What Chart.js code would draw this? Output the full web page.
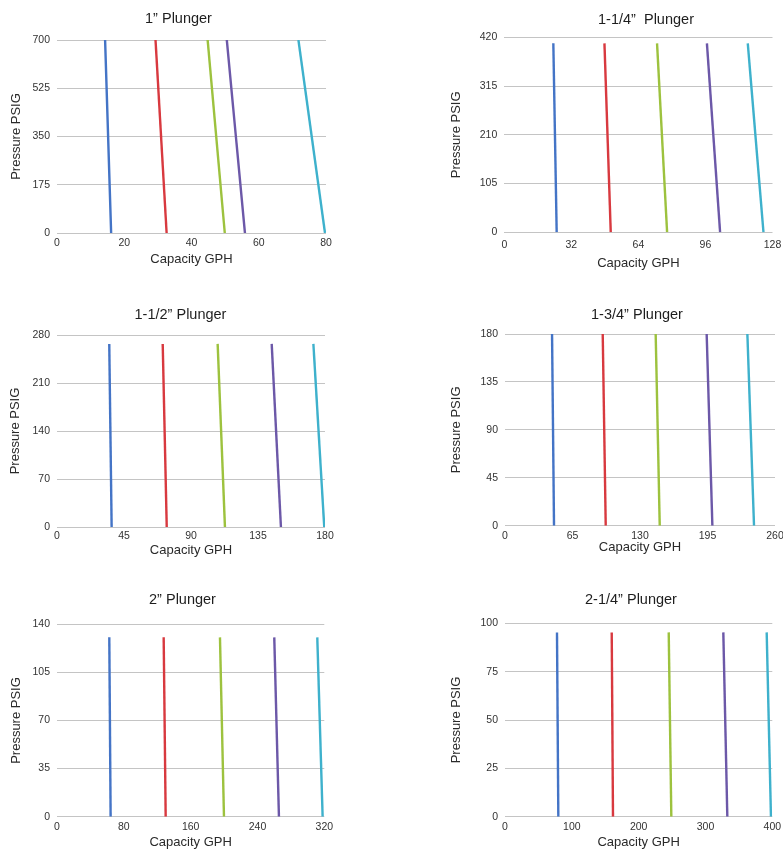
<!DOCTYPE html>
<html><head><meta charset="utf-8">
<script src="https://cdn.jsdelivr.net/npm/chart.js@4.4.1/dist/chart.umd.min.js"></script>
<style>
html,body{margin:0;padding:0;background:#fff;overflow:hidden;width:783px;height:850px}
#wrap{position:relative;width:783px;height:850px;overflow:hidden;background:#fff}
#wrap canvas{position:absolute}
</style></head><body><div id="wrap"></div>
<script>
// ---------- DATA ----------
const seriesNames = ['Curve 1', 'Curve 2', 'Curve 3', 'Curve 4', 'Curve 5'];
const chartTitles = ['1\u201D Plunger', '1-1/4\u201D  Plunger', '1-1/2\u201D Plunger', '1-3/4\u201D Plunger', '2\u201D Plunger', '2-1/4\u201D Plunger'];
const xAxisTitle = 'Capacity GPH';
const yAxisTitle = 'Pressure PSIG';

// 1" plunger
const p1Pressure = [700, 0];
const p1CapAtTop = [14.3, 29.3, 44.8, 50.5, 71.8];
const p1CapAtZero = [16.1, 32.6, 49.9, 55.9, 79.7];
const p1XTicks = [0, 20, 40, 60, 80];
const p1YTicks = [0, 175, 350, 525, 700];

// 1-1/4" plunger
const p2Pressure = [407, 0];
const p2CapAtTop = [23.4, 47.8, 72.9, 96.7, 116.2];
const p2CapAtZero = [25.0, 50.8, 77.7, 103.0, 123.7];
const p2XTicks = [0, 32, 64, 96, 128];
const p2YTicks = [0, 105, 210, 315, 420];

// 1-1/2" plunger
const p3Pressure = [267, 0];
const p3CapAtTop = [35.1, 71.0, 107.9, 144.2, 172.2];
const p3CapAtZero = [36.7, 73.7, 112.8, 150.4, 179.5];
const p3XTicks = [0, 45, 90, 135, 180];
const p3YTicks = [0, 70, 140, 210, 280];

// 1-3/4" plunger
const p4Pressure = [180, 0];
const p4CapAtTop = [45.3, 94.1, 145.1, 194.2, 233.4];
const p4CapAtZero = [47.2, 97.0, 149.0, 199.7, 239.8];
const p4XTicks = [0, 65, 130, 195, 260];
const p4YTicks = [0, 45, 90, 135, 180];

// 2" plunger
const p5Pressure = [130.5, 0];
const p5CapAtTop = [62.6, 127.7, 195.1, 260.1, 311.6];
const p5CapAtZero = [64.2, 130.1, 199.9, 265.7, 318.0];
const p5XTicks = [0, 80, 160, 240, 320];
const p5YTicks = [0, 35, 70, 105, 140];

// 2-1/4" plunger
const p6Pressure = [95.3, 0];
const p6CapAtTop = [77.8, 159.7, 245.0, 326.7, 391.6];
const p6CapAtZero = [79.8, 161.6, 248.9, 332.7, 398.0];
const p6XTicks = [0, 100, 200, 300, 400];
const p6YTicks = [0, 25, 50, 75, 100];

// ---------- STYLE / LAYOUT ----------
const lineColors = ['#4474C6', '#D8393F', '#9DC23E', '#6C58A8', '#3EB1CC'];
const FONT = "'Liberation Sans', Arial, Helvetica, sans-serif";
// canvas left/top/height, plot rect [left,top,right,bottom], title center x/y, y-title center x, x-tick center y
const layouts = [
  {L:0,   T:0,   H:267, plot:[57,40,326,233],          titleX:178.5, titleY:19,  yTitleX:16,    xTickY:243},
  {L:440, T:0,   H:271, plot:[504.3,37.3,772.5,232.3], titleX:646,   titleY:20,  yTitleX:456.7, xTickY:245},
  {L:0,   T:290, H:268, plot:[57,335,325,527],         titleX:180.5, titleY:315, yTitleX:15.5,  xTickY:535.7},
  {L:440, T:290, H:265, plot:[505,334,775,525.7],      titleX:637,   titleY:315, yTitleX:456.7, xTickY:535.7},
  {L:0,   T:580, H:270, plot:[57,624.3,324.3,816.7],   titleX:182.5, titleY:600, yTitleX:16.5,  xTickY:826.7},
  {L:440, T:580, H:270, plot:[505,623.3,772.3,816.7],  titleX:631,   titleY:600, yTitleX:456.7, xTickY:826.7}
];

const chartData = [
  [p1Pressure, p1CapAtTop, p1CapAtZero, p1XTicks, p1YTicks],
  [p2Pressure, p2CapAtTop, p2CapAtZero, p2XTicks, p2YTicks],
  [p3Pressure, p3CapAtTop, p3CapAtZero, p3XTicks, p3YTicks],
  [p4Pressure, p4CapAtTop, p4CapAtZero, p4XTicks, p4YTicks],
  [p5Pressure, p5CapAtTop, p5CapAtZero, p5XTicks, p5YTicks],
  [p6Pressure, p6CapAtTop, p6CapAtZero, p6XTicks, p6YTicks]
];

const wrap = document.getElementById('wrap');
const TITLE_SIZE = 14.5, TICK_SIZE = 10.5, AXT_SIZE = 13;

chartData.forEach((d, k) => {
  const [pressure, capTop, capZero, xTicks, yTicks] = d;
  const g = layouts[k];
  const L = g.L, T = g.T, H = g.H;
  const [pl, pt, pr, pb] = g.plot;
  // full-size title is centred on the canvas -> canvas width = 2*(titleX-L)
  const W = Math.round(2 * (g.titleX - L));
  const rightGap = (L + W) - pr;   // reserved by an empty right-hand spacer axis

  const cv = document.createElement('canvas');
  cv.width = W; cv.height = H;
  cv.style.left = L + 'px'; cv.style.top = T + 'px';
  cv.style.width = W + 'px'; cv.style.height = H + 'px';
  wrap.appendChild(cv);

  const titleLH = TITLE_SIZE * 1.2;
  const tPadTop = (g.titleY - T) - titleLH / 2;
  const tPadBottom = (pt - T) - tPadTop - titleLH;
  const axLH = AXT_SIZE * 1.2;
  const tickLH = TICK_SIZE * 1.2;

  const datasets = seriesNames.map((name, i) => ({
    label: name,
    data: [{x: capTop[i], y: pressure[0]}, {x: capZero[i], y: pressure[1]}],
    borderColor: lineColors[i],
    backgroundColor: lineColors[i],
    borderWidth: 2.4,
    pointRadius: 0,
    showLine: true,
    tension: 0,
    yAxisID: 'y'
  }));

  new Chart(cv, {
    type: 'scatter',
    data: {datasets},
    options: {
      responsive: false,
      animation: false,
      devicePixelRatio: 1,
      layout: {padding: 0},
      plugins: {
        legend: {display: false},
        tooltip: {enabled: false},
        title: {
          display: true,
          text: chartTitles[k],
          color: '#1e1e1e',
          font: {family: FONT, size: TITLE_SIZE, weight: 'normal', lineHeight: 1.2},
          padding: {top: tPadTop, bottom: tPadBottom}
        }
      },
      scales: {
        x: {
          type: 'linear',
          min: xTicks[0], max: xTicks[xTicks.length - 1],
          ticks: {stepSize: xTicks[1] - xTicks[0], autoSkip: false, maxRotation: 0,
                  color: '#333', font: {family: FONT, size: TICK_SIZE},
                  padding: (g.xTickY - pb) - tickLH / 2},
          grid: {display: false, drawTicks: false},
          border: {display: false},
          title: {display: true, text: xAxisTitle, color: '#2a2a2a',
                  font: {family: FONT, size: AXT_SIZE, lineHeight: 1.2}, padding: {top: 0, bottom: 0}},
          afterFit: (s) => { s.height = (T + H) - pb; }
        },
        y: {
          type: 'linear',
          position: 'left',
          min: yTicks[0], max: yTicks[yTicks.length - 1],
          ticks: {stepSize: yTicks[1] - yTicks[0], autoSkip: false,
                  color: '#333', font: {family: FONT, size: TICK_SIZE}, padding: 7},
          grid: {color: '#c4c4c4', lineWidth: 1, drawTicks: false},
          border: {display: false},
          title: {display: true, text: yAxisTitle, color: '#2a2a2a',
                  font: {family: FONT, size: AXT_SIZE, lineHeight: 1.2},
                  padding: {top: (g.yTitleX - L) - axLH / 2, bottom: 0}},
          afterFit: (s) => { s.width = pl - L; }
        },
        spacer: {
          type: 'linear',
          axis: 'y',
          position: 'right',
          display: true,
          ticks: {display: false},
          grid: {display: false, drawTicks: false},
          border: {display: false},
          title: {display: false},
          afterFit: (s) => { s.width = rightGap; }
        }
      }
    }
  });
});
</script></body></html>
